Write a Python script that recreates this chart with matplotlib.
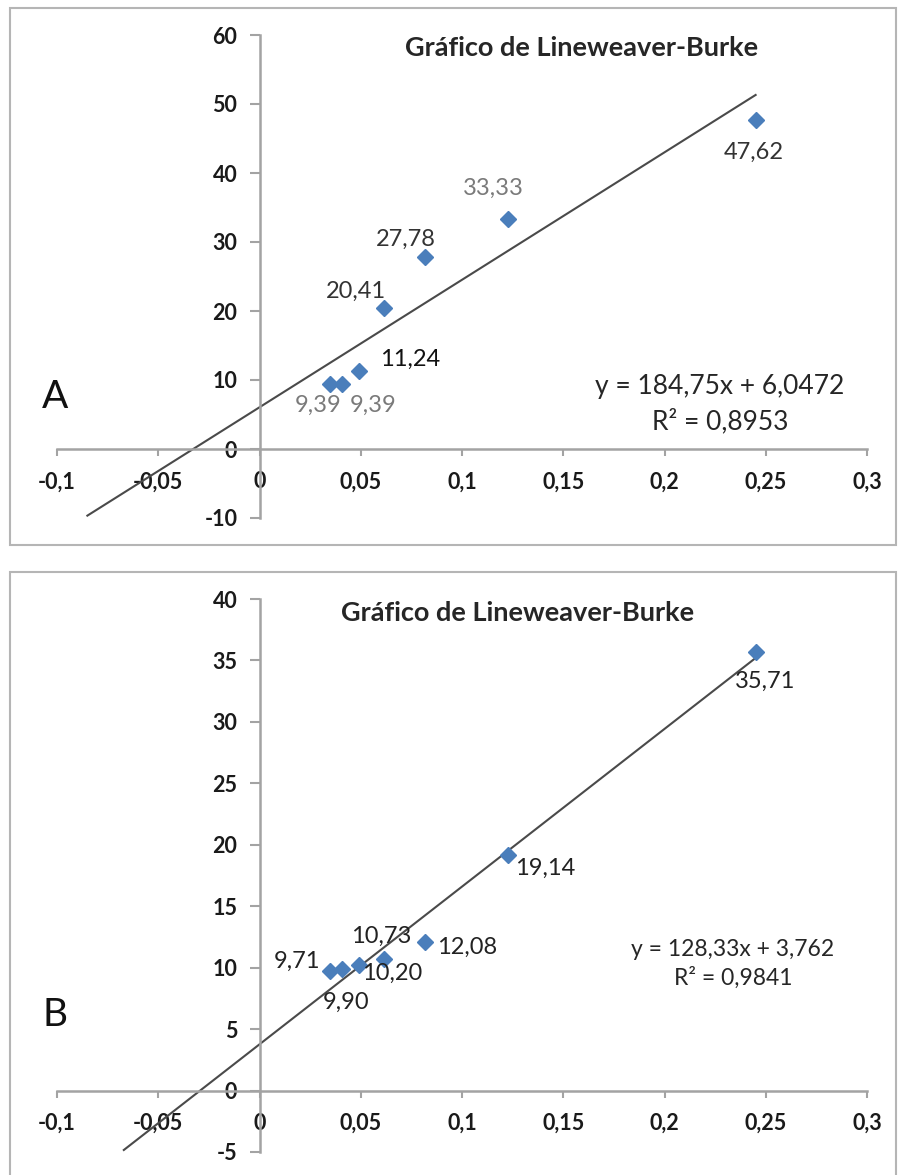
import matplotlib
matplotlib.use('Agg')
import matplotlib.pyplot as plt
import numpy as np
from matplotlib.ticker import MultipleLocator, FuncFormatter
from matplotlib.patches import Rectangle

plt.rcParams['font.family'] = ['Lato', 'DejaVu Sans']

# 1/[S] values (same for both panels)
inv_s = [0.035, 0.0408, 0.049, 0.0613, 0.0817, 0.1225, 0.245]
# 1/v values
inv_v_a = [9.39, 9.39, 11.24, 20.41, 27.78, 33.33, 47.62]
inv_v_b = [9.71, 9.90, 10.20, 10.73, 12.08, 19.14, 35.71]
# trend lines as shown by Excel
slope_a, icpt_a, r2_a = 184.75, 6.0472, 0.8953
slope_b, icpt_b, r2_b = 128.33, 3.762, 0.9841
line_start_a, line_start_b = -0.085, -0.067

W, H = 901, 1175
fig = plt.figure(figsize=(W / 100, H / 100), dpi=100)

def px(x, y):
    return x / W, 1 - y / H

def comma(v, pos=None):
    v = round(v, 3)
    if abs(v) < 1e-9:
        return '0'
    return ('%g' % v).replace('.', ',')

def setup(ax, ylo, yhi, ystep):
    ax.set_xlim(-0.1, 0.3)
    ax.set_ylim(ylo, yhi)
    for s in ['top', 'right']:
        ax.spines[s].set_visible(False)
    ax.spines['left'].set_position(('data', 0))
    ax.spines['bottom'].set_position(('data', 0))
    for s in ['left', 'bottom']:
        ax.spines[s].set_color('#a3a3a3')
        ax.spines[s].set_linewidth(1.8)
    ax.xaxis.set_major_locator(MultipleLocator(0.05))
    ax.yaxis.set_major_locator(MultipleLocator(ystep))
    ax.xaxis.set_major_formatter(FuncFormatter(comma))
    ax.yaxis.set_major_formatter(FuncFormatter(comma))
    ax.tick_params(axis='x', direction='out', length=5, width=1.5, color='#a3a3a3',
                   pad=11, labelsize=15.5, labelcolor='#1a1a1a')
    ax.tick_params(axis='y', direction='out', length=7, width=1.5, color='#a3a3a3',
                   pad=9, labelsize=15.5, labelcolor='#1a1a1a')
    for lab in ax.get_xticklabels() + ax.get_yticklabels():
        lab.set_fontweight('bold')
    ax.patch.set_visible(False)

def draw(ax, yv, slope, icpt, x0, offsets, colors):
    xl = np.array([x0, max(inv_s)])
    ax.plot(xl, slope * xl + icpt, color='#4a4a4a', linewidth=1.5, zorder=2)
    ax.plot(inv_s, yv, linestyle='none', marker='D', markersize=8,
            color='#4a7ebb', zorder=3)
    for x, y, off, c in zip(inv_s, yv, offsets, colors):
        ax.annotate(('%.2f' % y).replace('.', ','), (x, y), xytext=off,
                    textcoords='offset points', ha='center', va='center',
                    fontsize=17, color=c, zorder=4)

# panel frames
fig.add_artist(Rectangle(px(10, 545), 886 / W, 537 / H, transform=fig.transFigure,
                         fill=False, edgecolor='#b5b5b5', linewidth=1.5))
fig.add_artist(Rectangle(px(10, 1180), 886 / W, 608 / H, transform=fig.transFigure,
                         fill=False, edgecolor='#b5b5b5', linewidth=1.5))

# panel A
ax1 = fig.add_axes([57 / W, 1 - 518 / H, 810 / W, 483 / H])
setup(ax1, -10, 60, 10)
off_a = [(-9, -15), (22, -15), (37, 9), (-20, 12), (-14, 13), (-10, 22), (-1, -23)]
col_a = ['#7a7a7a', '#7a7a7a', '#111111', '#333333', '#333333', '#7a7a7a', '#333333']
draw(ax1, inv_v_a, slope_a, icpt_a, line_start_a, off_a, col_a)
fig.text(*px(582, 48), 'Gráfico de Lineweaver-Burke', ha='center', va='center',
         fontsize=19.5, fontweight='bold', color='#262626')
fig.text(*px(720, 386), ('y = %.2fx + %.4f' % (slope_a, icpt_a)).replace('.', ','),
         ha='center', va='center', fontsize=19, color='#262626')
fig.text(*px(720, 421), ('R² = %.4f' % r2_a).replace('.', ','),
         ha='center', va='center', fontsize=19, color='#262626')
fig.text(*px(55, 397), 'A', ha='center', va='center', fontsize=28, color='#111111')

# panel B
ax2 = fig.add_axes([57 / W, 1 - 1152 / H, 810 / W, 553 / H])
setup(ax2, -5, 40, 5)
off_b = [(-24, 7), (3, -24), (24, -6), (-2, 16), (30, -4), (27, -9), (7, -21)]
col_b = ['#222222'] * 7
draw(ax2, inv_v_b, slope_b, icpt_b, line_start_b, off_b, col_b)
fig.text(*px(518, 613), 'Gráfico de Lineweaver-Burke', ha='center', va='center',
         fontsize=19.5, fontweight='bold', color='#262626')
fig.text(*px(733, 950), ('y = %.2fx + %.3f' % (slope_b, icpt_b)).replace('.', ','),
         ha='center', va='center', fontsize=16.5, color='#262626')
fig.text(*px(733, 978), ('R² = %.4f' % r2_b).replace('.', ','),
         ha='center', va='center', fontsize=16.5, color='#262626')
fig.text(*px(55, 1015), 'B', ha='center', va='center', fontsize=28, color='#111111')

fig.savefig('out.png', dpi=100)
